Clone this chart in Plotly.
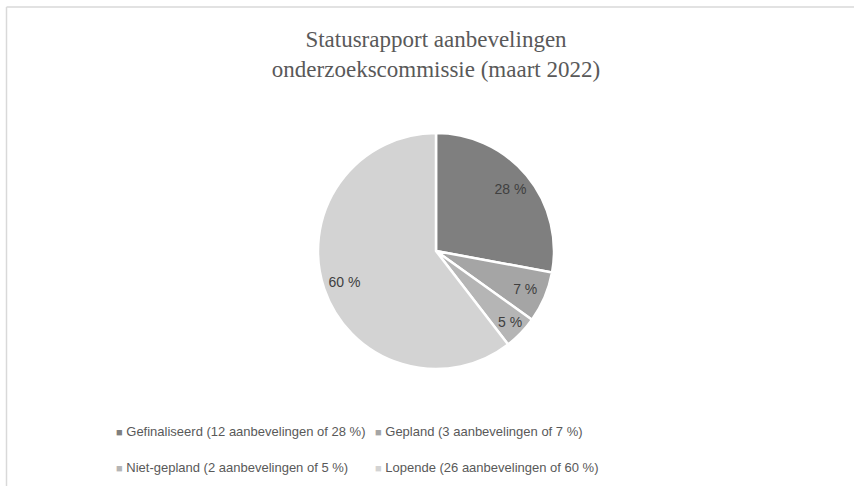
import plotly.graph_objects as go

# %%
categories = ["Gefinaliseerd", "Gepland", "Niet-gepland", "Lopende"]
aantallen = [12, 3, 2, 26]
percentages = [28, 7, 5, 60]
kleuren = ["#7f7f7f", "#a5a5a5", "#b5b5b5", "#d3d3d3"]

legend_labels = [f"{c} ({n} aanbevelingen of {p} %)"
                 for c, n, p in zip(categories, aantallen, percentages)]
slice_text = [f"{p} %" for p in percentages]

W, H = 854, 486
pie_domain = dict(x=[318 / W, 554 / W], y=[1 - 369 / H, 1 - 133 / H])

# %%
fig = go.Figure()

# the slices
fig.add_trace(go.Pie(
    labels=categories,
    values=aantallen,
    textinfo="none",
    sort=False,
    direction="clockwise",
    rotation=0,
    marker=dict(colors=kleuren, line=dict(color="white", width=2.5)),
    domain=pie_domain,
    showlegend=False,
    hoverinfo="label+value+percent",
))

# transparent ring on top, only to push the labels outwards
fig.add_trace(go.Pie(
    labels=categories,
    values=aantallen,
    text=slice_text,
    textinfo="text",
    textposition="inside",
    insidetextorientation="horizontal",
    hole=0.64,
    sort=False,
    direction="clockwise",
    rotation=0,
    marker=dict(colors=["rgba(0,0,0,0)"] * 4, line=dict(width=0)),
    textfont=dict(family="Liberation Sans", size=14, color="#404040"),
    domain=pie_domain,
    showlegend=False,
    hoverinfo="skip",
))

# legend: one small legend per entry, 2 x 2 grid like the original;
# the square sits in the text so it is as close to the label as in the original
legend_names = ["legend", "legend2", "legend3", "legend4"]
for lbl, kl, lg in zip(legend_labels, kleuren, legend_names):
    fig.add_trace(go.Scatter(
        x=[None], y=[None], mode="markers",
        name=f'<span style="color:{kl};font-size:11px">■</span> {lbl}',
        marker=dict(size=0.1, color="rgba(0,0,0,0)", opacity=0),
        legend=lg,
    ))

legend_style = dict(
    orientation="h",
    xanchor="left", yanchor="middle",
    font=dict(family="Liberation Sans", size=13, color="#595959"),
    itemwidth=30,
    bgcolor="rgba(0,0,0,0)",
)
col_x = [76 / W, 335 / W]
row_y = [1 - 431 / H, 1 - 467 / H]

fig.update_layout(
    width=W, height=H,
    margin=dict(l=0, r=0, t=0, b=0),
    paper_bgcolor="white",
    plot_bgcolor="white",
    title=dict(
        text="Statusrapport aanbevelingen<br>onderzoekscommissie (maart 2022)",
        x=436 / W, xanchor="center",
        y=1 - 47 / H, yanchor="top",
        font=dict(family="Liberation Serif", size=23, color="#595959"),
    ),
    xaxis=dict(visible=False),
    yaxis=dict(visible=False),
    legend=dict(legend_style, x=col_x[0], y=row_y[0]),
    legend2=dict(legend_style, x=col_x[1], y=row_y[0]),
    legend3=dict(legend_style, x=col_x[0], y=row_y[1]),
    legend4=dict(legend_style, x=col_x[1], y=row_y[1]),
    shapes=[
        dict(type="line", xref="paper", yref="paper",
             x0=6.5 / W, x1=6.5 / W, y0=0, y1=1 - 7 / H,
             line=dict(color="#d9d9d9", width=1.5)),
        dict(type="line", xref="paper", yref="paper",
             x0=6.5 / W, x1=1, y0=1 - 7 / H, y1=1 - 7 / H,
             line=dict(color="#d9d9d9", width=1.5)),
    ],
)

fig.write_html("out.html", config={"displayModeBar": False},
               post_script="document.body.style.margin = '0';")
